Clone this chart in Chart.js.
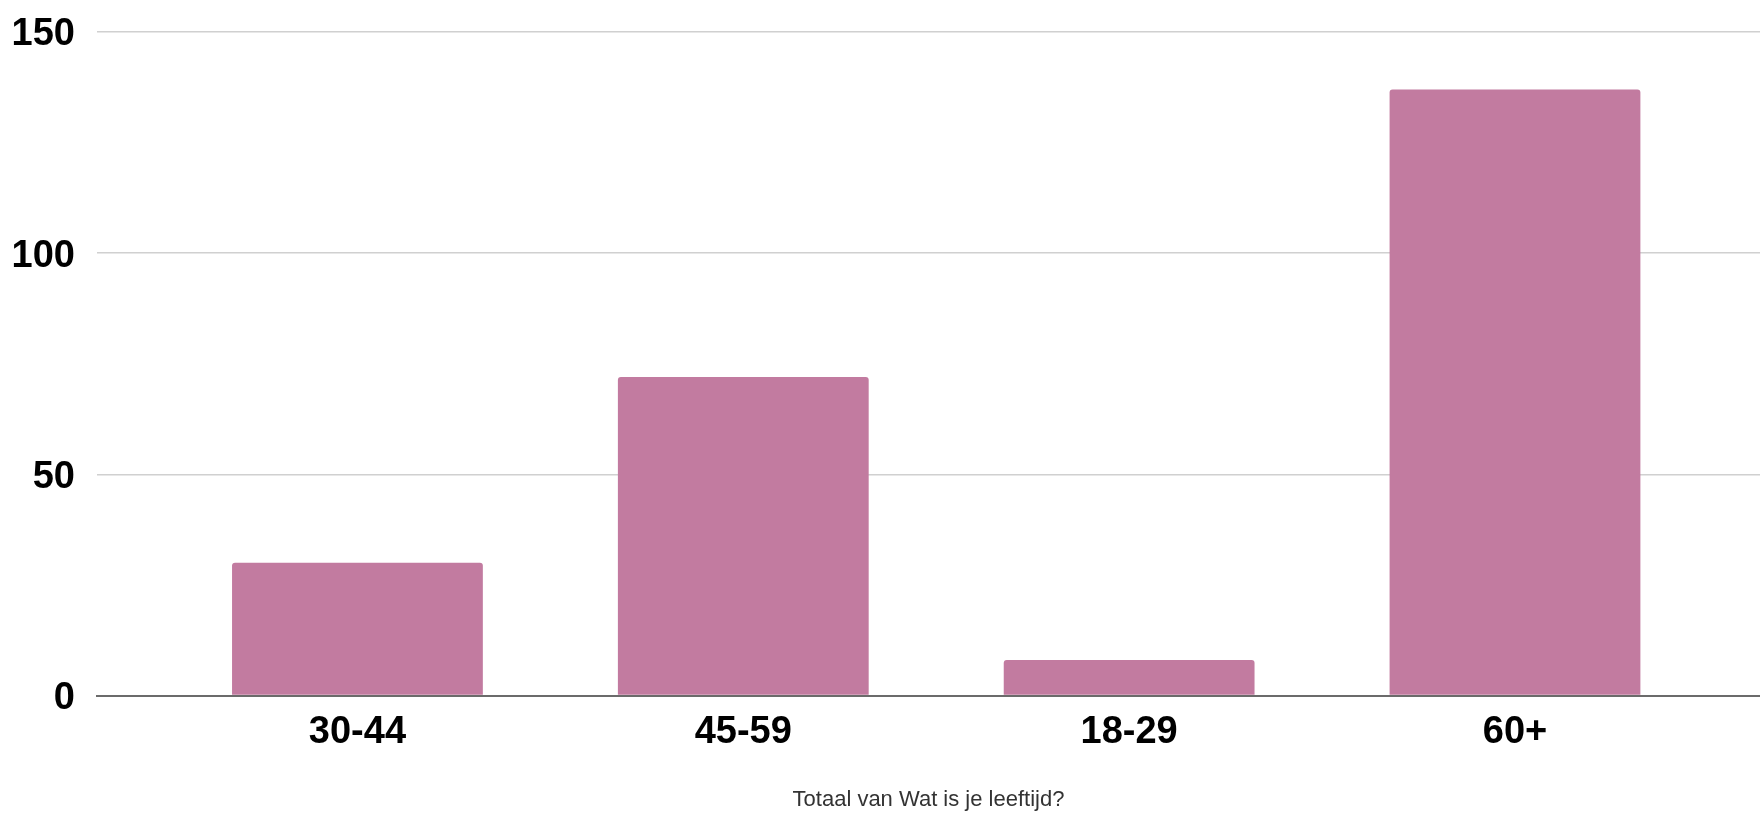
<!DOCTYPE html>
<html lang="nl">
<head>
    <meta charset="UTF-8">
    <title>Totaal van Wat is je leeftijd?</title>
    <script src="https://cdn.jsdelivr.net/npm/chart.js"></script>
    <style>
        html, body {
            margin: 0;
            padding: 0;
            background: #fff;
        }
        #wrap {
            width: 1760px;
            height: 813px;
            position: relative;
        }
    </style>
</head>
<body>
<div id="wrap"><canvas id="ageChart"></canvas></div>

<script>
    const categories = ['30-44', '45-59', '18-29', '60+'];
    const counts = [30, 72, 8, 137];
    const yTicks = [0, 50, 100, 150];
    const axisTitle = 'Totaal van Wat is je leeftijd?';

    // bars sit on a numeric x axis so the side margins can match the original
    const points = counts.map((v, i) => ({ x: i, y: v }));

    new Chart(document.getElementById('ageChart').getContext('2d'), {
        type: 'bar',
        data: {
            datasets: [{
                data: points,
                backgroundColor: '#c27ba0',
                borderRadius: { topLeft: 3, topRight: 3 },
                borderSkipped: 'bottom',
                categoryPercentage: 1,
                barPercentage: 0.65
            }]
        },
        options: {
            responsive: true,
            maintainAspectRatio: false,
            animation: false,
            layout: { padding: { top: 32, left: 0, right: 0, bottom: 0 } },
            plugins: {
                legend: { display: false },
                tooltip: { enabled: false }
            },
            scales: {
                x: {
                    type: 'linear',
                    min: -0.675,
                    max: 3.635,
                    offset: false,
                    grid: { display: false, offset: false },
                    border: { display: true, color: '#6b6b6b', width: 2 },
                    ticks: {
                        stepSize: 1,
                        includeBounds: false,
                        autoSkip: false,
                        maxRotation: 0,
                        padding: 6,
                        color: '#000',
                        font: { family: 'Liberation Sans', size: 38, weight: 'bold' },
                        callback: v => Number.isInteger(v) ? categories[v] : ''
                    },
                    title: {
                        display: true,
                        text: axisTitle,
                        color: '#333',
                        padding: { top: 25.5, bottom: 0 },
                        font: { family: 'Liberation Sans', size: 22 }
                    }
                },
                y: {
                    min: 0,
                    max: 150,
                    afterBuildTicks: axis => { axis.ticks = yTicks.map(v => ({ value: v })); },
                    afterFit: axis => {
                        axis.width = 97;
                        axis.paddingTop = 0;
                        axis.paddingBottom = 0;
                    },
                    grid: { color: '#d0d0d0', lineWidth: 1.5, drawTicks: false },
                    border: { display: false },
                    ticks: {
                        padding: 22,
                        labelOffset: 3,
                        color: '#000',
                        font: { family: 'Liberation Sans', size: 38, weight: 'bold' }
                    }
                }
            }
        }
    });
</script>
</body>
</html>
